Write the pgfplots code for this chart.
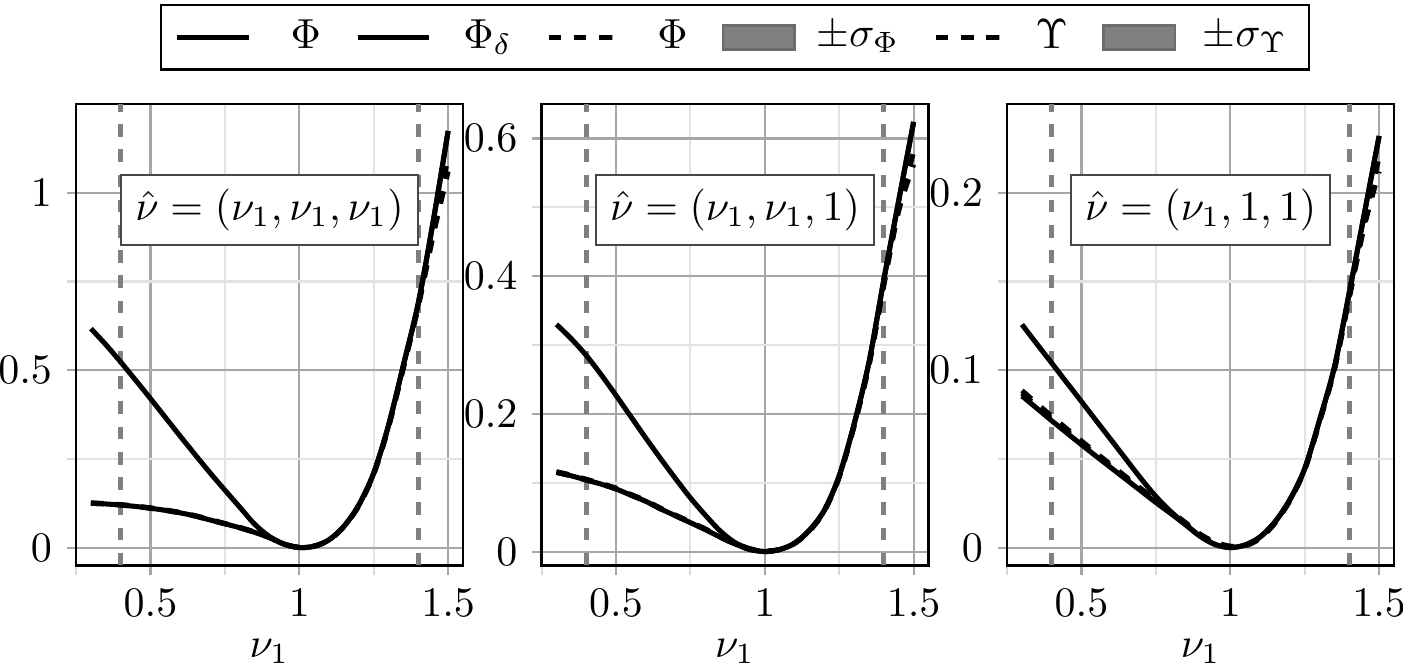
\documentclass[border=0pt]{standalone}
\usepackage{pgfplots}
\usepackage{pgfplotstable}
\usetikzlibrary{calc}
\pgfplotsset{compat=1.18}

\pgfplotstableread{
x    phi    phid   phih   ups
0.30 0.125  0.617  0.126  0.125
0.35 0.123  0.572  0.124  0.123
0.40 0.120  0.523  0.121  0.120
0.45 0.116  0.472  0.117  0.116
0.50 0.111  0.420  0.112  0.111
0.55 0.105  0.367  0.106  0.105
0.60 0.098  0.314  0.099  0.098
0.65 0.089  0.262  0.090  0.089
0.70 0.078  0.211  0.079  0.078
0.75 0.067  0.162  0.068  0.067
0.80 0.056  0.114  0.057  0.056
0.85 0.043  0.066  0.044  0.043
0.90 0.028  0.031  0.029  0.028
0.95 0.009  0.010  0.010  0.009
1.00 0.000  0.000  0.001  0.000
1.05 0.004  0.004  0.004  0.004
1.10 0.022  0.022  0.021  0.021
1.15 0.060  0.060  0.059  0.059
1.20 0.120  0.120  0.119  0.118
1.25 0.210  0.210  0.208  0.207
1.30 0.345  0.345  0.342  0.340
1.35 0.515  0.515  0.510  0.507
1.40 0.690  0.690  0.685  0.680
1.45 0.920  0.920  0.895  0.880
1.50 1.174  1.174  1.100  1.060
}\tabA

\pgfplotstableread{
x    phi    phid   phih   ups
0.30 0.115  0.330  0.116  0.115
0.35 0.110  0.309  0.111  0.110
0.40 0.104  0.285  0.105  0.104
0.45 0.098  0.257  0.099  0.098
0.50 0.091  0.227  0.092  0.091
0.55 0.082  0.196  0.083  0.082
0.60 0.073  0.165  0.074  0.073
0.65 0.062  0.135  0.063  0.062
0.70 0.052  0.106  0.053  0.052
0.75 0.042  0.078  0.043  0.042
0.80 0.032  0.053  0.033  0.032
0.85 0.021  0.030  0.022  0.021
0.90 0.011  0.013  0.012  0.011
0.95 0.003  0.004  0.004  0.003
1.00 0.000  0.000  0.001  0.000
1.05 0.003  0.003  0.003  0.003
1.10 0.012  0.012  0.012  0.012
1.15 0.031  0.031  0.030  0.030
1.20 0.060  0.060  0.059  0.059
1.25 0.110  0.110  0.109  0.108
1.30 0.185  0.185  0.183  0.182
1.35 0.275  0.275  0.272  0.270
1.40 0.395  0.395  0.390  0.387
1.45 0.510  0.510  0.500  0.495
1.50 0.624  0.624  0.580  0.562
}\tabB

\pgfplotstableread{
x    phi     phid    phih    ups
0.30 0.0855  0.1257  0.0885  0.0870
0.35 0.0785  0.1148  0.0812  0.0798
0.40 0.0715  0.1040  0.0740  0.0727
0.45 0.0647  0.0931  0.0670  0.0658
0.50 0.0580  0.0823  0.0601  0.0590
0.55 0.0514  0.0714  0.0532  0.0523
0.60 0.0449  0.0606  0.0465  0.0457
0.65 0.0384  0.0497  0.0398  0.0391
0.70 0.0319  0.0389  0.0332  0.0325
0.75 0.0254  0.0288  0.0266  0.0260
0.80 0.0192  0.0203  0.0204  0.0198
0.85 0.0128  0.0130  0.0140  0.0134
0.90 0.0062  0.0063  0.0074  0.0068
0.95 0.0017  0.0017  0.0030  0.0024
1.00 0.0000  0.0000  0.0008  0.0004
1.05 0.0015  0.0015  0.0010  0.0012
1.10 0.0060  0.0060  0.0052  0.0055
1.15 0.0145  0.0145  0.0138  0.0140
1.20 0.0270  0.0270  0.0265  0.0266
1.25 0.0445  0.0445  0.0440  0.0441
1.30 0.0720  0.0720  0.0712  0.0710
1.35 0.1020  0.1020  0.1010  0.1005
1.40 0.1440  0.1440  0.1420  0.1410
1.45 0.1880  0.1880  0.1840  0.1810
1.50 0.2320  0.2320  0.2200  0.2120
}\tabC

\tikzset{
  cur/.style={black, line width=1.2pt, smooth},
  dcur/.style={black, line width=1.2pt, dashed, smooth},
  vl/.style={gray, dashed, line width=1.2pt},
  mybox/.style={draw=gray!55!black, fill=white, inner sep=3.33pt, line width=0.5pt},
}
\pgfplotsset{
  panel/.style={
    scale only axis, width=92.1pt, height=109.8pt,
    xmin=0.25, xmax=1.55,
    xtick={0.5,1,1.5}, minor xtick={0.25,0.75,1.25},
    grid=both,
    major grid style={gray!70, line width=0.5pt},
    minor grid style={gray!22, line width=0.5pt},
    major tick style={gray!70, line width=0.5pt},
    minor tick style={gray!30, line width=0.5pt},
    tick align=outside, tick pos=left,
    major tick length=2.2pt, minor tick length=2.2pt,
    xlabel={$\nu_1$},
    xlabel style={yshift=1.5pt},
    axis line style={black, line width=0.6pt},
  },
}

\begin{document}
\begin{tikzpicture}
% ---------- panel 1
\begin{axis}[panel, name=p1, at={(0pt,0pt)},
  ymin=-0.05, ymax=1.25, ytick={0,0.5,1}, minor ytick={0.25,0.75}]
  \addplot[vl, forget plot] coordinates {(0.4,-0.05) (0.4,1.25)};
  \addplot[vl, forget plot] coordinates {(1.4,-0.05) (1.4,1.25)};
  \addplot[cur] table[x=x, y=phi] {\tabA};
  \addplot[cur] table[x=x, y=phid] {\tabA};
  \addplot[dcur] table[x=x, y=phih] {\tabA};
  \addplot[dcur] table[x=x, y=ups] {\tabA};
  \node[mybox] at (rel axis cs:0.5,0.77) {$\hat{\nu}=(\nu_1,\nu_1,\nu_1)$};
\end{axis}
% ---------- panel 2
\begin{axis}[panel, name=p2, at={(110.8pt,0pt)},
  ymin=-0.02, ymax=0.65, ytick={0,0.2,0.4,0.6}, minor ytick={0.1,0.3,0.5},
  legend columns=6,
  legend style={at={(0.5,1.072)}, anchor=south, draw=black, line width=0.6pt,
    /tikz/every even column/.append style={column sep=6.1pt},
    inner xsep=3.2pt, inner ysep=1.5pt},
  legend cell align=left]
  \addplot[vl, forget plot] coordinates {(0.4,-0.02) (0.4,0.65)};
  \addplot[vl, forget plot] coordinates {(1.4,-0.02) (1.4,0.65)};
  \addplot[cur] table[x=x, y=phi] {\tabB};
  \addplot[cur] table[x=x, y=phid] {\tabB};
  \addplot[dcur] table[x=x, y=phih] {\tabB};
  \addlegendimage{area legend, fill=gray, draw=gray!85!black}
  \addplot[dcur] table[x=x, y=ups] {\tabB};
  \addlegendimage{area legend, fill=gray, draw=gray!85!black}
  \legend{\hspace{7.4pt}$\Phi$,
          \hspace{5.5pt}$\Phi_\delta$\hspace{6.4pt},
          \hspace{6.2pt}$\Phi$\hspace{1.9pt},
          \hspace{2.9pt}$\pm\sigma_\Phi$\hspace{1.4pt},
          \hspace{4pt}$\Upsilon$\hspace{3.8pt},
          \hspace{4.3pt}$\pm\sigma_\Upsilon$\hspace{1pt}}
  \node[mybox] at (rel axis cs:0.5,0.77) {$\hat{\nu}=(\nu_1,\nu_1,1)$};
\end{axis}
% ---------- panel 3
\begin{axis}[panel, name=p3, at={(221.6pt,0pt)},
  ymin=-0.01, ymax=0.25, ytick={0,0.1,0.2}, minor ytick={0.05,0.15}]
  \addplot[vl, forget plot] coordinates {(0.4,-0.01) (0.4,0.25)};
  \addplot[vl, forget plot] coordinates {(1.4,-0.01) (1.4,0.25)};
  \addplot[cur] table[x=x, y=phi] {\tabC};
  \addplot[cur] table[x=x, y=phid] {\tabC};
  \addplot[dcur] table[x=x, y=phih] {\tabC};
  \addplot[dcur] table[x=x, y=ups] {\tabC};
  \node[mybox] at (rel axis cs:0.5,0.77) {$\hat{\nu}=(\nu_1,1,1)$};
\end{axis}
\pgfresetboundingbox
\useasboundingbox ($(p1.south west)+(-18.1pt,-24.05pt)$) rectangle ($(p3.north east)+(2.14pt,24.76pt)$);
\end{tikzpicture}
\end{document}
